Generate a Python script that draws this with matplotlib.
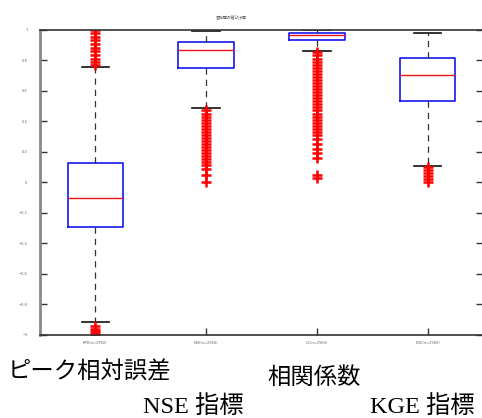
import matplotlib
matplotlib.use("Agg")
import matplotlib.pyplot as plt
from matplotlib.transforms import ScaledTranslation

# ---- data ----
labels = ["RPD(n=2960)", "NSE(n=2960)", "CC(n=2960)", "KGE(n=2960)"]
medians = [-0.10, 0.865, 0.965, 0.70]
q1s = [-0.295, 0.745, 0.930, 0.530]
q3s = [0.125, 0.920, 0.980, 0.815]
whis_lo = [-0.918, 0.483, 0.860, 0.105]
whis_hi = [0.756, 0.990, 0.997, 0.980]

fliers_rpd = [0.77, 0.79, 0.81, 0.835, 0.86, 0.88, 0.905, 0.93, 0.95, 0.975,
              1.00, -0.94, -0.96, -0.975, -0.99, -1.00]
fliers_nse = [0.47, 0.45, 0.43, 0.41, 0.39, 0.37, 0.35, 0.33, 0.31, 0.29, 0.27,
              0.25, 0.23, 0.21, 0.19, 0.17, 0.15, 0.13, 0.11, 0.09, 0.05, 0.00]
fliers_cc = [0.85, 0.83, 0.81, 0.79, 0.77, 0.75, 0.73, 0.71, 0.69, 0.67, 0.65,
             0.63, 0.61, 0.59, 0.57, 0.55, 0.53, 0.51, 0.49, 0.47, 0.45, 0.43,
             0.41, 0.39, 0.37, 0.35, 0.33, 0.31, 0.28, 0.25, 0.22, 0.19, 0.16,
             0.05, 0.03]
fliers_kge = [0.10, 0.08, 0.06, 0.04, 0.02, 0.00]
fliers = [fliers_rpd, fliers_nse, fliers_cc, fliers_kge]

yticks = [-1, -0.8, -0.6, -0.4, -0.2, 0, 0.2, 0.4, 0.6, 0.8, 1]
ytick_labels = ["\u22121", "\u22120.8", "\u22120.6", "\u22120.4", "\u22120.2", "0",
                "0.2", "0.4", "0.6", "0.8", "1"]
title = "各指標の箱ひげ図"
big_labels = ["ピーク相対誤差", "NSE 指標", "相関係数", "KGE 指標"]

# ---- figure ----
plt.rcParams['font.family'] = ['DejaVu Sans', 'Noto Sans CJK JP']
W, H = 482, 418
fig = plt.figure(figsize=(W / 100, H / 100), dpi=100)
ax = fig.add_axes([40 / W, (H - 335) / H, 443 / W, (335 - 29.5) / H])

stats = []
for i in range(4):
    stats.append(dict(med=medians[i], q1=q1s[i], q3=q3s[i],
                      whislo=whis_lo[i], whishi=whis_hi[i],
                      fliers=fliers[i], label=labels[i]))

ax.bxp(stats, positions=[1, 2, 3, 4], widths=0.5, capwidths=0.25,
       boxprops=dict(color="#1515ee", linewidth=1.2),
       medianprops=dict(color="#ee1111", linewidth=1.0),
       whiskerprops=dict(color="#333333", linewidth=0.9, linestyle=(0, (5, 4))),
       capprops=dict(color="#111111", linewidth=1.2),
       flierprops=dict(marker="+", markeredgecolor="#ff0000", markersize=7,
                       markeredgewidth=1.8, linestyle="none"))

ax.set_xlim(0.5, 4.5)
ax.set_ylim(-1, 1)
ax.set_yticks(yticks)
ax.set_yticklabels(ytick_labels, fontsize=2.6, color="#666666")
ax.set_xticks([1, 2, 3, 4])
ax.set_xticklabels(labels, fontsize=2.6, color="#666666")
for lab in ax.get_xticklabels():
    lab.set_transform(lab.get_transform() + ScaledTranslation(-0.19, 0, fig.dpi_scale_trans))

ax.tick_params(axis="y", direction="in", length=5, width=1.0, color="#333333",
               right=True, pad=9)
ax.tick_params(axis="x", direction="in", length=5, width=1.0, color="#333333", pad=4)

ax.spines["left"].set_color("#888888")
ax.spines["left"].set_linewidth(2.0)
ax.spines["top"].set_color("#333333")
ax.spines["top"].set_linewidth(1.2)
ax.spines["bottom"].set_color("#333333")
ax.spines["bottom"].set_linewidth(1.2)
ax.spines["right"].set_visible(False)

fig.text(231 / W, 1 - 18 / H, title, fontsize=2.8, color="#444444",
         ha="center", va="center", family=['Noto Sans CJK JP', 'DejaVu Sans'])

fam = ['Liberation Serif', 'Noto Sans CJK JP']
fig.text(8 / W, 1 - 372 / H, big_labels[0], fontsize=16.8, ha="left", va="center", family=fam)
fig.text(143 / W, 1 - 407 / H, big_labels[1], fontsize=17.5, ha="left", va="center", family=fam)
fig.text(267 / W, 1 - 378 / H, big_labels[2], fontsize=16.8, ha="left", va="center", family=fam)
fig.text(370 / W, 1 - 407 / H, big_labels[3], fontsize=17.5, ha="left", va="center", family=fam)

fig.savefig("out.png", dpi=100)
